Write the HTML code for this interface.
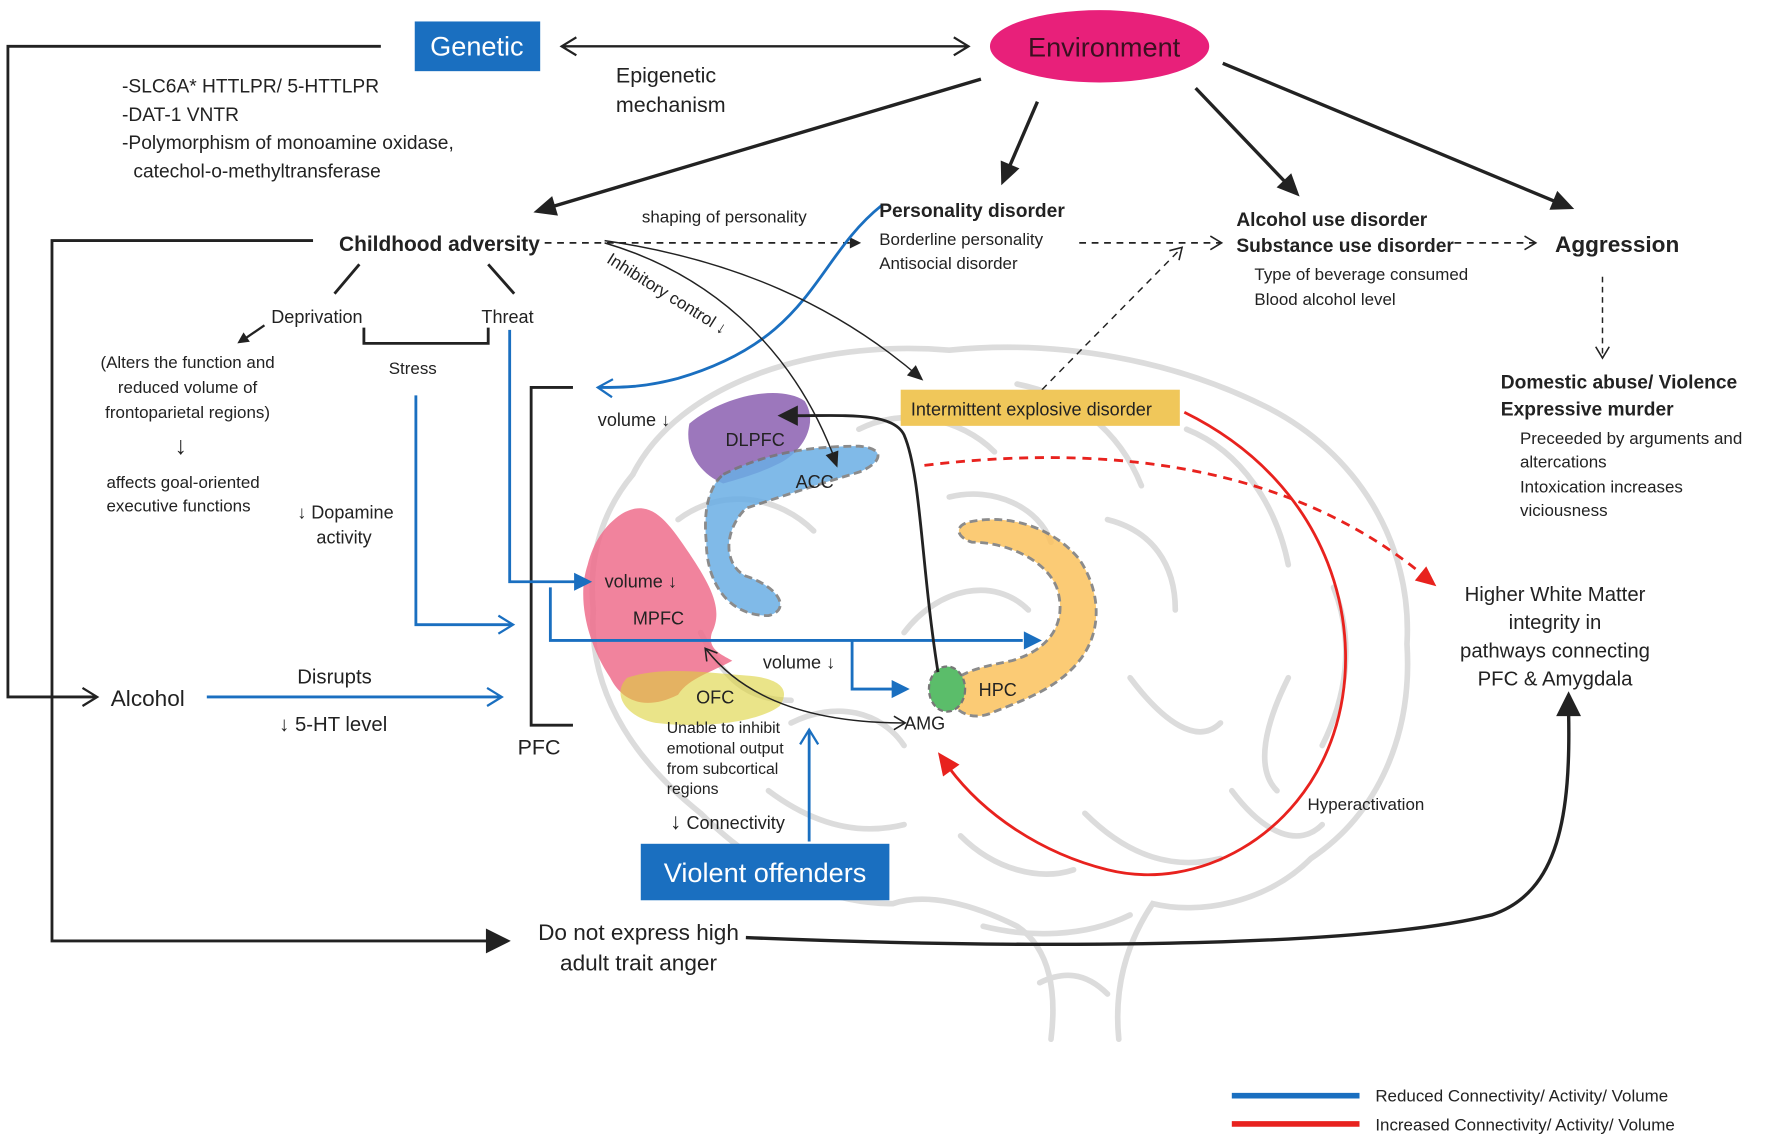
<!DOCTYPE html>
<html><head><meta charset="utf-8"><style>
html,body{margin:0;padding:0;background:#fff}
svg{display:block}
text{font-family:"Liberation Sans",sans-serif;fill:#222}
</style></head><body>
<svg width="1772" height="1142" viewBox="0 0 1568 1011" preserveAspectRatio="none" xmlns="http://www.w3.org/2000/svg">

<!-- brain outline -->
<g fill="none" stroke="#dcdcdc" stroke-width="5" stroke-linecap="round">
<path d="M560,420 C600,340 720,300 840,310 C940,300 1040,320 1120,360 C1200,400 1250,480 1245,570 C1250,650 1220,720 1160,760 C1120,800 1060,810 1020,800 C1000,830 985,870 990,920"/>
<path d="M930,920 C935,880 930,840 900,820 C860,800 820,790 790,800 C720,800 660,760 620,720 C570,680 520,620 525,540 C520,490 535,450 560,420"/>
<path d="M600,460 C640,430 690,440 720,470 M760,380 C800,360 850,370 880,400 M900,340 C950,350 990,380 1010,430 M1050,380 C1100,400 1130,450 1140,500 M1180,520 C1200,570 1190,620 1170,660 M1090,700 C1120,740 1150,750 1170,730 M960,720 C1000,760 1040,770 1080,760 M850,740 C880,770 920,780 950,770 M680,700 C720,730 760,740 800,730 M700,640 C740,620 780,630 800,660 M800,560 C830,520 880,510 910,540 M1000,600 C1030,640 1060,660 1080,640 M980,460 C1020,470 1040,500 1040,540 M840,440 C880,430 920,450 930,480 M620,560 C640,600 660,620 700,620 M1140,600 C1120,640 1110,680 1130,700"/>
<path d="M870,820 C910,830 960,830 1000,810 M920,870 C940,860 960,860 980,880"/>
</g>

<!-- regions -->
<path d="M610,375 C640,350 690,340 712,355 C725,375 710,400 690,410 C670,420 650,425 640,428 C620,420 605,400 610,375z" fill="#8b5fb0" opacity="0.85"/>
<path d="M640,420 C680,400 720,395 760,395 C785,397 780,410 760,418 C720,430 690,440 660,450 C640,470 640,500 660,510 C690,520 700,540 680,545 C640,545 625,510 625,480 C622,450 628,430 640,420z" fill="#6aaee5" opacity="0.85" stroke="#777" stroke-width="2.5" stroke-dasharray="7,4"/>
<path d="M550,455 C575,440 590,460 610,490 C630,520 640,540 630,560 C625,575 640,580 648,585 C630,595 610,600 600,615 C570,630 550,620 540,600 C520,570 510,530 520,500 C525,480 535,465 550,455z" fill="#ef6d8c" opacity="0.85"/>
<path d="M555,600 C585,590 620,595 660,598 C690,600 700,610 690,625 C670,640 620,645 580,640 C555,635 540,615 555,600z" fill="#dcd23a" opacity="0.6"/>
<path d="M858,462 C890,455 930,465 955,495 C975,525 975,560 955,585 C935,610 905,620 880,630 C860,640 840,630 840,610 C845,595 870,590 895,585 C930,575 945,550 935,520 C925,495 890,480 860,480 C845,475 845,465 858,462z" fill="#fbc25e" opacity="0.85" stroke="#777" stroke-width="2.5" stroke-dasharray="7,4"/>
<ellipse cx="838" cy="610" rx="16" ry="20" fill="#5bbd6a" stroke="#777" stroke-width="2" stroke-dasharray="5,3"/>

<!-- region labels -->
<g font-size="16"><text x="642" y="395">DLPFC</text><text x="704" y="432">ACC</text><text x="535" y="520">volume ↓</text><text x="560" y="553">MPFC</text><text x="616" y="623">OFC</text><text x="866" y="616">HPC</text><text x="800" y="646">AMG</text><text x="675" y="592">volume ↓</text><text x="529" y="377">volume ↓</text></g>
<g font-size="14"><text x="590" y="649">Unable to inhibit</text><text x="590" y="667">emotional output</text><text x="590" y="685">from subcortical</text><text x="590" y="703">regions</text></g>
<text x="593" y="734" font-size="16"><tspan font-size="20" font-weight="bold">↓</tspan> Connectivity</text>

<!-- PFC bracket -->
<path d="M507,343 H470 V642 H507" fill="none" stroke="#222" stroke-width="2.5"/>
<text x="458" y="668" font-size="19">PFC</text>

<!-- top boxes -->
<rect x="367" y="19" width="111" height="44" fill="#1a6fc0"/>
<text x="422" y="49" font-size="24" text-anchor="middle" style="fill:#fff">Genetic</text>
<ellipse cx="973" cy="41" rx="97" ry="32" fill="#e8207a"/>
<text x="977" y="50" font-size="24" text-anchor="middle" style="fill:#3a1020">Environment</text>
<line x1="497" y1="41" x2="857" y2="41" stroke="#222" stroke-width="2"/>
<g fill="none" stroke="#222" stroke-width="2">
<polyline points="-13,-8 0,0 -13,8" transform="translate(857,41)"/>
<polyline points="-13,-8 0,0 -13,8" transform="translate(497,41) rotate(180)"/>
</g>
<text x="545" y="73" font-size="19">Epigenetic</text><text x="545" y="99" font-size="19">mechanism</text>
<g font-size="17"><text x="108" y="82">-SLC6A* HTTLPR/ 5-HTTLPR</text><text x="108" y="107">-DAT-1 VNTR</text><text x="108" y="132">-Polymorphism of monoamine oxidase,</text><text x="118" y="157">catechol-o-methyltransferase</text></g>

<!-- left genetic line to alcohol -->
<path d="M337,41 H7 V617 H85" fill="none" stroke="#222" stroke-width="2.5"/>
<polyline points="-13,-8 0,0 -13,8" transform="translate(86,617)" fill="none" stroke="#222" stroke-width="2"/>
<text x="98" y="625" font-size="20">Alcohol</text>
<line x1="183" y1="617" x2="443" y2="617" stroke="#1a6fc0" stroke-width="2.5"/>
<polyline points="-13,-8 0,0 -13,8" transform="translate(444,617)" fill="none" stroke="#1a6fc0" stroke-width="2"/>
<text x="263" y="605" font-size="18">Disrupts</text>
<text x="247" y="647" font-size="18"><tspan font-weight="bold">↓</tspan> 5-HT level</text>

<!-- environment arrows -->
<g stroke="#222" stroke-width="3" fill="none">
<line x1="868" y1="70" x2="485" y2="184"/>
<line x1="918" y1="90" x2="893" y2="148"/>
<line x1="1058" y1="78" x2="1140" y2="164"/>
<line x1="1082" y1="56" x2="1380" y2="180"/>
</g>
<g fill="#222">
<polygon points="0,0 -20,-9 -20,9" transform="translate(472,188) rotate(163.4)"/>
<polygon points="0,0 -20,-9 -20,9" transform="translate(886,164) rotate(113)"/>
<polygon points="0,0 -20,-9 -20,9" transform="translate(1150,174) rotate(46)"/>
<polygon points="0,0 -20,-9 -20,9" transform="translate(1393,185) rotate(22.5)"/>
</g>

<!-- childhood -->
<text x="300" y="222" font-size="18.5" font-weight="bold">Childhood adversity</text>
<path d="M277,213 H46 V833 H432" fill="none" stroke="#222" stroke-width="2.5"/>
<polygon points="0,0 -22,-11 -22,11" transform="translate(452,833)" fill="#222"/>
<text x="565" y="832" font-size="20" text-anchor="middle">Do not express high</text>
<text x="565" y="859" font-size="20" text-anchor="middle">adult trait anger</text>
<path d="M660,830 C900,840 1200,840 1320,810 C1380,790 1390,720 1388,630" fill="none" stroke="#222" stroke-width="3"/>
<polygon points="0,0 -22,-11 -22,11" transform="translate(1388,612) rotate(-90)" fill="#222"/>

<line x1="482" y1="215" x2="752" y2="215" stroke="#222" stroke-width="1.5" stroke-dasharray="6,5"/>
<polygon points="0,0 -10,-5 -10,5" transform="translate(762,215)" fill="#222"/>
<text x="568" y="197" font-size="15">shaping of personality</text>
<g stroke="#222" stroke-width="2.5"><line x1="318" y1="234" x2="296" y2="260"/><line x1="432" y1="234" x2="455" y2="260"/></g>
<text x="240" y="286" font-size="16">Deprivation</text><text x="426" y="286" font-size="16">Threat</text>
<line x1="234" y1="288" x2="218" y2="299" stroke="#222" stroke-width="2"/>
<polygon points="0,0 -10,-5 -10,5" transform="translate(210,304) rotate(146)" fill="#222"/>
<path d="M322,290 V304 H432 V290" fill="none" stroke="#222" stroke-width="2.5"/>
<text x="344" y="331" font-size="15">Stress</text>
<g font-size="15" text-anchor="middle"><text x="166" y="326">(Alters the function and</text><text x="166" y="348">reduced volume of</text><text x="166" y="370">frontoparietal regions)</text><text x="162" y="432">affects goal-oriented</text><text x="158" y="453">executive functions</text></g>
<text x="160" y="402" font-size="22" text-anchor="middle" font-weight="bold">↓</text>
<text x="263" y="459" font-size="16"><tspan font-weight="bold">↓</tspan> Dopamine</text><text x="280" y="481" font-size="16">activity</text>

<!-- blue lines -->
<g stroke="#1a6fc0" stroke-width="2.5" fill="none">
<path d="M451,292 V515 H510"/>
<path d="M368,350 V553 H453"/>
<path d="M780,182 C720,230 720,300 600,335 C570,343 550,343 530,343"/>
<path d="M487,520 V567 H905"/>
<path d="M754,567 V610 H790"/>
<path d="M716,745 V647"/>
</g>
<g fill="#1a6fc0">
<polygon points="0,0 -16,-8 -16,8" transform="translate(524,515)"/>
<polygon points="0,0 -16,-8 -16,8" transform="translate(922,567)"/>
<polygon points="0,0 -16,-8 -16,8" transform="translate(805,610)"/>
</g>
<g fill="none" stroke="#1a6fc0" stroke-width="2">
<polyline points="-13,-8 0,0 -13,8" transform="translate(454,553)"/>
<polyline points="-13,-8 0,0 -13,8" transform="translate(529,343) rotate(183)"/>
<polyline points="-13,-8 0,0 -13,8" transform="translate(716,646) rotate(-90)"/>
</g>

<!-- black thin curves -->
<g stroke="#222" stroke-width="1.3" fill="none">
<path d="M535,215 C620,240 700,300 740,410"/>
<path d="M535,213 C650,230 740,270 815,335"/>
<path d="M625,575 C660,620 720,640 800,640"/>
</g>
<g fill="#222">
<polygon points="0,0 -14,-6 -14,6" transform="translate(741,414) rotate(70)"/>
<polygon points="0,0 -14,-6 -14,6" transform="translate(817,337) rotate(41)"/>
</g>
<g fill="none" stroke="#222" stroke-width="1.4">
<polyline points="-10,-6 0,0 -10,6" transform="translate(801,640)"/>
<polyline points="-10,-6 0,0 -10,6" transform="translate(624,574) rotate(232)"/>
</g>
<text x="536" y="232" font-size="15" transform="rotate(32 536 232)">Inhibitory control ↓</text>
<path d="M830,595 C815,500 815,420 800,385 C790,365 750,368 705,368" fill="none" stroke="#222" stroke-width="2.5"/>
<polygon points="0,0 -18,-9 -18,9" transform="translate(688,368) rotate(180)" fill="#222"/>

<!-- personality -->
<text x="778" y="192" font-size="17" font-weight="bold">Personality disorder</text>
<text x="778" y="217" font-size="15">Borderline personality</text><text x="778" y="238" font-size="15">Antisocial disorder</text>
<line x1="955" y1="215" x2="1080" y2="215" stroke="#222" stroke-width="1.5" stroke-dasharray="6,5"/>
<text x="1094" y="200" font-size="17" font-weight="bold">Alcohol use disorder</text>
<text x="1094" y="223" font-size="17" font-weight="bold">Substance use disorder</text>
<line x1="1287" y1="215" x2="1358" y2="215" stroke="#222" stroke-width="1.5" stroke-dasharray="6,5"/>
<text x="1376" y="223" font-size="20" font-weight="bold">Aggression</text>
<text x="1110" y="248" font-size="15">Type of beverage consumed</text><text x="1110" y="270" font-size="15">Blood alcohol level</text>
<line x1="1418" y1="245" x2="1418" y2="316" stroke="#222" stroke-width="1.3" stroke-dasharray="5,4"/>
<line x1="922" y1="345" x2="1045" y2="220" stroke="#222" stroke-width="1.3" stroke-dasharray="6,5"/>
<g fill="none" stroke="#222" stroke-width="1.4">
<polyline points="-10,-6 0,0 -10,6" transform="translate(1081,215)"/>
<polyline points="-10,-6 0,0 -10,6" transform="translate(1359,215)"/>
<polyline points="-10,-6 0,0 -10,6" transform="translate(1418,317) rotate(90)"/>
<polyline points="-10,-6 0,0 -10,6" transform="translate(1046,219) rotate(-45.5)"/>
</g>
<text x="1328" y="344" font-size="17" font-weight="bold">Domestic abuse/ Violence</text>
<text x="1328" y="368" font-size="17" font-weight="bold">Expressive murder</text>
<g font-size="15"><text x="1345" y="393">Preceeded by arguments and</text><text x="1345" y="414">altercations</text><text x="1345" y="436">Intoxication increases</text><text x="1345" y="457">viciousness</text></g>

<!-- IED -->
<rect x="797" y="345" width="247" height="32" fill="#f0c75a"/>
<text x="806" y="368" font-size="16">Intermittent explosive disorder</text>
<path d="M1048,365 C1180,430 1210,560 1180,650 C1150,740 1060,790 980,770 C920,755 870,720 840,680" fill="none" stroke="#e8221e" stroke-width="2.5"/>
<polygon points="0,0 -20,-9 -20,9" transform="translate(830,666) rotate(234)" fill="#e8221e"/>
<path d="M818,412 C1000,390 1150,420 1258,508" fill="none" stroke="#e8221e" stroke-width="2.5" stroke-dasharray="8,6"/>
<polygon points="0,0 -18,-8 -18,8" transform="translate(1271,519) rotate(39)" fill="#e8221e"/>
<text x="1157" y="717" font-size="15">Hyperactivation</text>
<g font-size="18" text-anchor="middle"><text x="1376" y="532">Higher White Matter</text><text x="1376" y="557">integrity in</text><text x="1376" y="582">pathways connecting</text><text x="1376" y="607">PFC &amp; Amygdala</text></g>

<!-- violent offenders -->
<rect x="567" y="747" width="220" height="50" fill="#1a6fc0"/>
<text x="677" y="781" font-size="24" text-anchor="middle" style="fill:#fff">Violent offenders</text>

<!-- legend -->
<line x1="1090" y1="970" x2="1203" y2="970" stroke="#1a6fc0" stroke-width="5"/>
<line x1="1090" y1="995" x2="1203" y2="995" stroke="#e8221e" stroke-width="5"/>
<text x="1217" y="975" font-size="15">Reduced Connectivity/ Activity/ Volume</text>
<text x="1217" y="1001" font-size="15">Increased Connectivity/ Activity/ Volume</text>
</svg>
</body></html>
